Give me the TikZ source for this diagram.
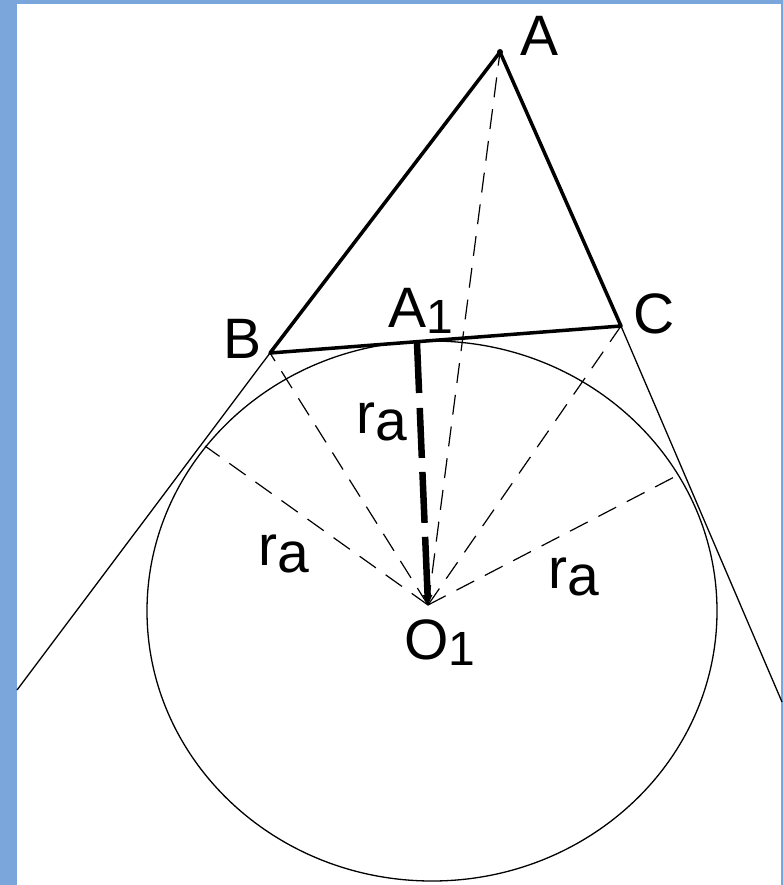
\documentclass[tikz,border=0pt]{standalone}
\usepackage{fontspec}
\setmainfont{Liberation Sans}
\usetikzlibrary{arrows.meta}
\definecolor{frameblue}{RGB}{122,166,220}
\newcommand{\lowidx}[1]{\raisebox{-6bp}{\fontsize{48bp}{50bp}\selectfont #1}}
\newcommand{\lowa}{\raisebox{-7bp}{a}}

\begin{document}
\begin{tikzpicture}[x=1bp,y=-1bp,
  sideline/.style={line width=3.5bp,line cap=round,line join=round},
  tanline/.style={line width=1.3bp},
  spoke/.style={line width=1.2bp,dash pattern=on 20bp off 12bp},
  heightline/.style={line width=6.5bp,dash pattern=on 50bp off 15bp on 50bp off 14bp on 51bp off 14bp on 90bp,
    -{Triangle[length=10bp,width=9bp]}},
  tag/.style={anchor=base west,inner sep=0pt,font=\fontsize{57bp}{60bp}\selectfont}]
% frame
\fill[white] (0,0) rectangle (783,885);
\fill[frameblue] (0,0) rectangle (17,885);
\fill[frameblue] (0,0) rectangle (783,4);
\fill[frameblue] (781,0) rectangle (783,885);
\useasboundingbox (0,0) rectangle (783,885);

\coordinate (A) at (500,52);
\coordinate (B) at (270,353);
\coordinate (C) at (621,326);
\coordinate (A1) at (417,343);
\coordinate (O1) at (428,605);
\coordinate (Tb) at (205,446);
\coordinate (Tc) at (680,474);
\coordinate (Bend) at (17,690);
\coordinate (Cend) at (782,702);

% spokes from the centre
\draw[spoke] (O1) -- (A);
\draw[spoke] (O1) -- (B);
\draw[spoke] (O1) -- (C);
\draw[spoke] (O1) -- (Tb);
\draw[spoke] (O1) -- (Tc);

% excircle
\draw[tanline] (432,611) ellipse [x radius=285, y radius=270];

% tangent lines beyond B and C
\draw[tanline] (B) -- (Bend);
\draw[tanline] (C) -- (Cend);

% triangle
\draw[sideline] (A) -- (B) -- (C) -- cycle;
\fill (A) circle (3);

% radius to A1
\draw[heightline] (A1) -- (O1);

\node[tag] (labA) at (520,55) {A};
\node[tag] (labB) at (223,358) {B};
\node[tag] (labC) at (633,333) {C};
\node[tag] (labA1) at (388,327) {A\lowidx{1}};
\node[tag] (labO1) at (404,659) {O\lowidx{1}};
\node[tag] (labRa) at (356,433) {r\lowa};
\node[tag] (labRb) at (258,565) {r\lowa};
\node[tag] (labRc) at (548,588) {r\lowa};
\end{tikzpicture}
\end{document}
